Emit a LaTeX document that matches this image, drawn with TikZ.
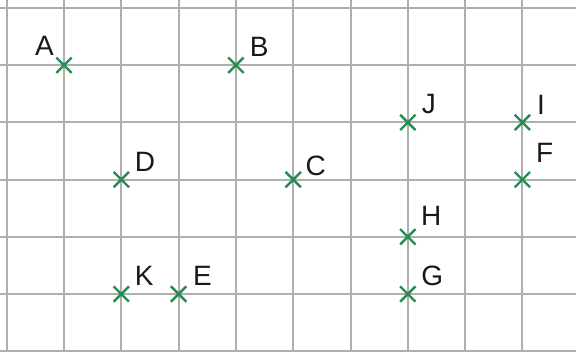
\documentclass[tikz,border=0pt]{standalone}
\usepackage{fontspec}
\setmainfont{Liberation Sans}
\usetikzlibrary{shapes.misc}
\definecolor{gridgray}{RGB}{175,175,175}
\definecolor{markgreen}{RGB}{38,140,82}
\begin{document}
\begin{tikzpicture}[x=1pt,y=-1pt,
  gridline/.style={draw=gridgray,line width=2pt},
  xmark/.style={cross out,draw=markgreen,line width=2.4pt,minimum size=13pt,inner sep=0pt},
  lbl/.style={anchor=base west,inner sep=0pt,font=\fontsize{28}{28}\selectfont,text=black!90}]
\useasboundingbox (0,0) rectangle (576,351);
\begin{scope}
\clip (0,0) rectangle (576,351);
\foreach \k in {0,...,9} \draw[gridline] ({6.7+57.3*\k},0) -- ({6.7+57.3*\k},351);
\foreach \k in {0,...,6} \draw[gridline] (0,{8+57.2*\k}) -- (576,{8+57.2*\k});
\end{scope}
% points
\node[xmark] (pA) at (64,65.2) {};
\node[xmark] (pB) at (235.9,65.2) {};
\node[xmark] (pC) at (293.2,179.6) {};
\node[xmark] (pD) at (121.3,179.6) {};
\node[xmark] (pE) at (178.6,294) {};
\node[xmark] (pF) at (522.4,179.6) {};
\node[xmark] (pG) at (407.8,294) {};
\node[xmark] (pH) at (407.8,236.8) {};
\node[xmark] (pI) at (522.4,122.4) {};
\node[xmark] (pJ) at (407.8,122.4) {};
\node[xmark] (pK) at (121.3,294) {};
% labels
\node[lbl] (lA) at (35,55.5) {A};
\node[lbl] (lB) at (249.7,56.5) {B};
\node[lbl] (lC) at (305.5,175) {C};
\node[lbl] (lD) at (134.7,171.5) {D};
\node[lbl] (lE) at (193,285) {E};
\node[lbl] (lF) at (536,162.7) {F};
\node[lbl] (lG) at (421.2,285) {G};
\node[lbl] (lH) at (421,225.7) {H};
\node[lbl] (lI) at (537,114) {I};
\node[lbl] (lJ) at (421.7,113) {J};
\node[lbl] (lK) at (134.7,285) {K};
\end{tikzpicture}
\end{document}
